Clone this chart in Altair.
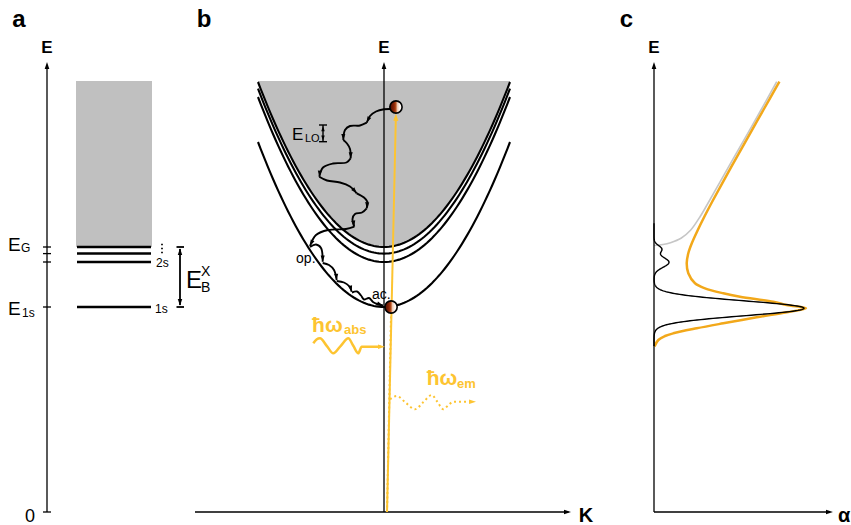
import altair as alt
import pandas as pd

FONT = "Liberation Sans"
H = 525
W_A, W_B, W_C = 190, 410, 251
E_DOMAIN = [-0.065, 2.56]

BLACK = "#000000"
GREY = "#c0c0c0"
GREY_LINE = "#c6c6c6"
YELLOW = "#fdc431"
ORANGE = "#f2a81a"

# exciton energies (arbitrary units, 0 at the foot of the energy axes)
E_1S, E_2S, E_3S, E_GAP = 1.025, 1.25, 1.292, 1.325
LEVEL_NAMES = ["1s", "2s", "3s", "gap"]
LEVEL_E = [E_1S, E_2S, E_3S, E_GAP]
E_BAND_TOP = 2.155      # upper edge of the continuum shading
E_TIP = 2.25            # tip of the energy axes
CURV = 0.825            # centre-of-mass dispersion E = E_n + CURV*K^2
K_HALF = 1.0            # drawn half-range of the dispersion curves

# exciton populations in panel b (K, E)
HOT_K, HOT_E = 0.095, 2.025
COLD_K, COLD_E = 0.056, 1.025

# phonon cascade of the hot exciton (K, E), one list per emission step
CASCADE = [
    [(0.0556, 2.015), (0.0, 2.0135), (-0.0635, 2.0025), (-0.1111, 1.98), (-0.1373, 1.9465)],
    [(-0.1373, 1.9465), (-0.1905, 1.9325), (-0.2698, 1.93), (-0.3095, 1.91), (-0.3230, 1.86)],
    [(-0.3230, 1.86), (-0.2937, 1.8425), (-0.2698, 1.815), (-0.2643, 1.7685)],
    [(-0.2643, 1.7685), (-0.2976, 1.7475), (-0.4048, 1.7425), (-0.4841, 1.7225), (-0.5135, 1.6765)],
    [(-0.5135, 1.6765), (-0.4524, 1.6575), (-0.3492, 1.6475), (-0.2698, 1.6275), (-0.2167, 1.5935)],
    [(-0.2167, 1.5935), (-0.1587, 1.5725), (-0.1310, 1.55), (-0.1373, 1.5185)],
    [(-0.1373, 1.5185), (-0.1746, 1.4975), (-0.2302, 1.49), (-0.25, 1.465), (-0.2357, 1.4265)],
    [(-0.2357, 1.4265), (-0.3016, 1.415), (-0.4444, 1.41), (-0.5397, 1.385), (-0.5873, 1.33)],
    [(-0.5873, 1.325), (-0.5397, 1.3375), (-0.5, 1.32), (-0.4865, 1.2515)],
    [(-0.4865, 1.245), (-0.4365, 1.235), (-0.3968, 1.21), (-0.3754, 1.16)],
    [(-0.3754, 1.155), (-0.3175, 1.1475), (-0.2778, 1.13), (-0.2563, 1.1015)],
    [(-0.254, 1.0975), (-0.2143, 1.1025), (-0.1825, 1.0825), (-0.1587, 1.0625),
     (-0.1190, 1.07), (-0.0873, 1.05), (-0.0556, 1.04), (-0.0079, 1.0325)],
]
CASCADE_HEAD_ANGLE = [206, 180, 180, 185, 140, 185, 170, 205, 180, 175, 165, 110]

# incoming and outgoing photons (K, E)
ABS_WAVE = [(-0.5611, 0.8435), (-0.5357, 0.8625), (-0.5079, 0.8685), (-0.4548, 0.831),
            (-0.4024, 0.7935), (-0.3429, 0.831), (-0.2833, 0.8685), (-0.2437, 0.831),
            (-0.2040, 0.7935), (-0.1770, 0.8265), (-0.0238, 0.8265)]
ABS_TIP = (0.0079, 0.8265)
EM_WAVE = [(0.0476, 0.5635), (0.1008, 0.58), (0.1746, 0.545), (0.246, 0.5135),
           (0.3135, 0.55), (0.3786, 0.585), (0.4246, 0.55), (0.4706, 0.5135),
           (0.5119, 0.535), (0.55, 0.5515), (0.696, 0.5515)]
EM_TIP = (0.7302, 0.5515)

# absorption spectra of panel c (alpha, E)
CONTINUUM = [(0.0, 1.3325), (0.06, 1.3375), (0.11, 1.3465), (0.18, 1.3685),
             (0.245, 1.41), (0.31, 1.48), (0.372, 1.56), (0.498, 1.7265),
             (0.625, 1.8935), (0.713, 2.01), (0.818, 2.1515)]
BROADENED = [(0.0033, 0.8275), (0.0287, 0.86), (0.0733, 0.88), (0.1287, 0.8935),
             (0.2847, 0.9185), (0.462, 0.9435), (0.6847, 0.9735), (0.8847, 0.9985),
             (1.0133, 1.0185), (0.8847, 1.035), (0.7953, 1.0515), (0.5733, 1.0765),
             (0.462, 1.0935), (0.34, 1.1185), (0.2733, 1.1435), (0.2287, 1.1935),
             (0.218, 1.2435), (0.2287, 1.2935), (0.252, 1.3435), (0.292, 1.41),
             (0.338, 1.48), (0.394, 1.56), (0.516, 1.7265), (0.641, 1.8935),
             (0.729, 2.01), (0.836, 2.1515)]
# sharp excitonic lines: centre, height, width
LINE_E = [1.0185, 1.2485, 1.315]
LINE_A = [1.0, 0.1, 0.05]
LINE_W = [0.037, 0.025, 0.0175]

ARROW = "M0,0L0.6,1.8L-0.6,1.8Z"


def yenc(field):
    return alt.Y(field, scale=alt.Scale(domain=E_DOMAIN, nice=False, zero=False), axis=None)


def xenc_factory(domain):
    def f(field):
        return alt.X(field, scale=alt.Scale(domain=domain, nice=False, zero=False), axis=None)
    return f


XA = xenc_factory([0, W_A])
XB = xenc_factory([-1.5397, 1.7143])
XC = xenc_factory([-0.36, 1.3133])


def segments(rows, xe, color=BLACK, width=1.3, dash=None):
    df = pd.DataFrame(rows, columns=["x", "x2", "y", "y2"])
    kw = dict(color=color, strokeWidth=width)
    if dash:
        kw["strokeDash"] = dash
    return alt.Chart(df).mark_rule(**kw).encode(
        x=xe("x:Q"), x2="x2:Q", y=yenc("y:Q"), y2="y2:Q")


def heads(rows, xe, color=BLACK, size=60):
    df = pd.DataFrame(rows, columns=["x", "y", "ang"])
    return alt.Chart(df).mark_point(shape=ARROW, filled=True, color=color, size=size,
                                    opacity=1, strokeWidth=0).encode(
        x=xe("x:Q"), y=yenc("y:Q"), angle=alt.Angle("ang:Q", scale=None))


def texts(rows, xe, color=BLACK, bold=False, align="left"):
    df = pd.DataFrame(rows, columns=["t", "x", "y", "fs"])
    return alt.Chart(df).mark_text(font=FONT, fontWeight="bold" if bold else "normal",
                                   color=color, align=align, baseline="alphabetic").encode(
        x=xe("x:Q"), y=yenc("y:Q"), text=alt.Text("t:N"), size=alt.Size("fs:Q", scale=None))


def paths(segs, xe, color, width, interp, dash=None):
    rows = []
    for s, pts in enumerate(segs):
        for i, (x, y) in enumerate(pts):
            rows.append({"seg": s, "i": i, "x": x, "y": y})
    kw = dict(color=color, strokeWidth=width, interpolate=interp)
    if dash:
        kw["strokeDash"] = dash
    return alt.Chart(pd.DataFrame(rows)).mark_line(**kw).encode(
        x=xe("x:Q"), y=yenc("y:Q"), detail="seg:N", order="i:Q")


# ---------------- panel a: energy levels ----------------
AX_A = 47
LEVEL_X = (77, 151)
TICK_E = [0, E_1S, E_2S, E_3S, E_GAP]
EB_X = 180

a_box = alt.Chart(pd.DataFrame({"x": [76], "x2": [152], "y": [E_GAP], "y2": [E_BAND_TOP]})).mark_rect(
    color=GREY).encode(x=XA("x:Q"), x2="x2:Q", y=yenc("y:Q"), y2="y2:Q")
a_axis = segments([(AX_A, AX_A, 0, E_TIP - 0.015)] + [(43, 51, e, e) for e in TICK_E], XA, width=1.3)
a_axis_head = heads([(AX_A, E_TIP, 0)], XA, size=60)
a_levels = segments([(LEVEL_X[0], LEVEL_X[1], e, e) for e in LEVEL_E], XA, width=2.5)
a_eb = segments([(EB_X, EB_X, E_1S + 0.01, E_GAP - 0.01),
                 (176.5, 184, E_GAP, E_GAP), (176.5, 184, E_1S, E_1S)], XA, width=1.8)
a_eb_heads = heads([(EB_X, E_GAP - 0.006, 0), (EB_X, E_1S + 0.006, 180)], XA, size=55)
a_dots = alt.Chart(pd.DataFrame({"x": [162] * 3, "y": [1.3375, 1.3175, 1.2975]})).mark_square(
    size=3, color=BLACK, opacity=1).encode(x=XA("x:Q"), y=yenc("y:Q"))
a_txt = texts([("E", 8, 1.3065, 19), ("G", 21, 1.298, 12), ("E", 8, 0.985, 19), ("1s", 22, 0.975, 12),
               ("2s", 156, 1.225, 12), ("1s", 155, 0.995, 12),
               ("E", 186, 1.12, 24), ("X", 201, 1.18, 14), ("B", 201, 1.10, 14)], XA)
a_txt_c = texts([("0", 30, -0.0485, 18)], XA, align="center")
a_bold = texts([("a", 19, 2.4265, 24), ("E", AX_A, 2.295, 17)], XA, bold=True, align="center")

panel_a = alt.layer(a_box, a_levels, a_axis, a_axis_head, a_eb, a_eb_heads, a_dots,
                    a_txt, a_txt_c, a_bold).properties(width=W_A, height=H)

# ---------------- panel b: dispersion and relaxation ----------------
lev_df = pd.DataFrame({"level": LEVEL_NAMES, "E0": LEVEL_E})
disp = alt.Chart(lev_df).transform_calculate(
    K=f"sequence({-K_HALF}, {K_HALF + 0.0001}, 0.02)"
).transform_flatten(["K"]).transform_calculate(
    E=f"datum.E0 + {CURV} * datum.K * datum.K")

b_fill = disp.transform_filter("datum.level == 'gap'").mark_area(color=GREY).encode(
    x=XB("K:Q"), y=yenc("E:Q"), y2=alt.datum(E_BAND_TOP))
b_curves = disp.mark_line(color=BLACK, strokeWidth=2.1).encode(
    x=XB("K:Q"), y=yenc("E:Q"), detail="level:N")

K_AXIS = (-1.5, 1.484)
b_axes = segments([(0, 0, 0, E_TIP - 0.015), (K_AXIS[0], K_AXIS[1] - 0.02, 0, 0)], XB, width=1.3)
b_axis_heads = heads([(0, E_TIP, 0), (K_AXIS[1], 0, 90)], XB, size=60)

b_abs_line = segments([(0.024, HOT_K - 0.001, 0, HOT_E - 0.05)], XB, color=YELLOW, width=2)
b_abs_head = heads([(HOT_K, HOT_E - 0.032, 1.3)], XB, color=YELLOW, size=70)
b_em_line = segments([(0.024, COLD_K, 0, COLD_E - 0.03)], XB, color=YELLOW, width=2, dash=[2, 2.5])
b_abs_wave = paths([ABS_WAVE], XB, YELLOW, 2.5, "monotone")
b_em_wave = paths([EM_WAVE], XB, YELLOW, 2, "monotone", dash=[2, 3])
b_photon_heads = heads([(ABS_TIP[0], ABS_TIP[1], 90), (EM_TIP[0], EM_TIP[1], 90)], XB, color=YELLOW, size=60)

b_cascade = paths(CASCADE, XB, BLACK, 1.9, "catmull-rom")
b_cascade_heads = heads([(seg[-1][0], seg[-1][1], a) for seg, a in zip(CASCADE, CASCADE_HEAD_ANGLE)],
                        XB, size=46)

LO_K = -0.4841
b_lo = segments([(LO_K, LO_K, 1.8515, 1.935), (-0.5159, -0.4524, 1.935, 1.935),
                 (-0.5159, -0.4524, 1.8515, 1.8515)], XB, width=1.4)
b_lo_heads = heads([(LO_K, 1.93, 0), (LO_K, 1.8565, 180)], XB, size=34)

GRAD = alt.LinearGradient(
    gradient="linear", x1=0, x2=1, y1=0.5, y2=0.5,
    stops=[alt.GradientStop(offset=0, color="#4a0d00"),
           alt.GradientStop(offset=0.35, color="#8c2607"),
           alt.GradientStop(offset=0.5, color="#b8521e"),
           alt.GradientStop(offset=0.6, color="#ecc7b0"),
           alt.GradientStop(offset=0.8, color="#fff6f0"),
           alt.GradientStop(offset=1, color="#ffffff")])
b_excitons = alt.Chart(pd.DataFrame({"K": [HOT_K, COLD_K], "E": [HOT_E, COLD_E]})).mark_circle(
    fill=GRAD, stroke=BLACK, strokeWidth=1.6, size=150, opacity=1).encode(x=XB("K:Q"), y=yenc("E:Q"))

b_txt = texts([("LO", -0.627, 1.8515, 11), ("op.", -0.698, 1.245, 14), ("ac.", -0.095, 1.065, 14)],
              XB)
b_txt_r = texts([("E", -0.6405, 1.86, 17)], XB, align="right")
b_bold = texts([("b", -1.4286, 2.4265, 24), ("E", 0, 2.295, 17), ("K", 1.603, -0.05, 20)], XB,
               bold=True, align="center")
b_photon_txt = texts([("ħω", -0.571, 0.9015, 21), ("abs", -0.317, 0.89, 13),
                      ("ħω", 0.339, 0.635, 21), ("em", 0.579, 0.62, 13)], XB, color=YELLOW, bold=True)

panel_b = alt.layer(b_fill, b_curves, b_axes, b_axis_heads, b_em_line, b_abs_line, b_abs_head,
                    b_abs_wave, b_em_wave, b_photon_heads, b_cascade, b_cascade_heads,
                    b_lo, b_lo_heads, b_excitons, b_txt, b_txt_r, b_bold, b_photon_txt
                    ).properties(width=W_B, height=H)

# ---------------- panel c: absorption ----------------
line_expr = " + ".join(
    f"{a} * exp(-0.5 * pow((datum.E - {e}) / {w}, 2))" for e, a, w in zip(LINE_E, LINE_A, LINE_W))
c_lines = alt.Chart(pd.DataFrame({"s": [0]})).transform_calculate(
    E="sequence(0.83, 1.445, 0.002)"
).transform_flatten(["E"]).transform_calculate(alpha=line_expr).mark_line(
    color=BLACK, strokeWidth=1.4).encode(x=XC("alpha:Q"), y=yenc("E:Q"), order="E:Q")
c_cont = paths([CONTINUUM], XC, GREY_LINE, 1.6, "catmull-rom")
c_broad = paths([BROADENED], XC, ORANGE, 2.5, "catmull-rom")

A_AXIS_TIP = 1.193
c_axes = segments([(0, 0, 0, E_TIP - 0.015), (0, A_AXIS_TIP - 0.02, 0, 0)], XC, width=1.3)
c_axis_heads = heads([(0, E_TIP, 0), (A_AXIS_TIP, 0, 90)], XC, size=60)
c_bold = texts([("c", -0.1833, 2.4265, 24), ("E", 0, 2.295, 17)], XC, bold=True, align="center")
c_alpha = texts([("α", 1.2267, -0.05, 20)], XC, bold=True)

panel_c = alt.layer(c_cont, c_broad, c_lines, c_axes, c_axis_heads, c_bold, c_alpha
                    ).properties(width=W_C, height=H)

chart = alt.hconcat(panel_a, panel_b, panel_c, spacing=0, bounds="flush").properties(
    padding=0, background="white"
).configure_view(stroke=None)

chart.save("out.html", embed_options={"renderer": "svg", "actions": False})
